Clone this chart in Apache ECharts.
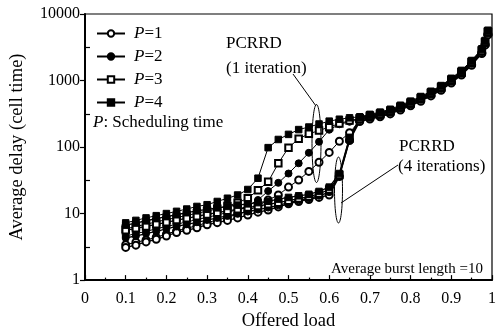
<!DOCTYPE html>
<html><head><meta charset="utf-8">
<script src="https://cdn.jsdelivr.net/npm/echarts@6/dist/echarts.min.js"></script>
<style>html,body{margin:0;padding:0;background:#fff}#c{width:500px;height:336px}</style>
</head><body><div id="c"></div>
<script>
// ---- data ----
const loads = [0.1,0.125,0.15,0.175,0.2,0.225,0.25,0.275,0.3,0.325,0.35,0.375,0.4,0.425,0.45,0.475,0.5,0.525,0.55,0.575,0.6,0.625,0.65,0.675,0.7,0.725,0.75,0.775,0.8,0.825,0.85,0.875,0.9,0.925,0.95,0.975,0.983,0.99];
const xTickLabels = ['0','0.1','0.2','0.3','0.4','0.5','0.6','0.7','0.8','0.9','1'];
const yTickLabels = ['1','10','100','1000','10000'];
const legendNames = ['P=1','P=2','P=3','P=4'];
// PCRRD, 1 iteration
const p1_1 = [3.4,3.7,4.0,4.4,4.9,5.5,6.0,6.6,7.3,8.0,8.8,9.8,11.0,13.0,16.0,19.0,25,32,43,59,83,122,164,248,270,291,322,370,426,500,600,731,940,1235,1740,2610,3480,4960];
const p2_1 = [4.6,5.0,5.4,5.9,6.4,6.9,7.5,8.1,8.8,9.5,10.4,11.5,13.0,16.0,21.8,29,40,57,82,120,182,220,240,259,282,305,337,387,446,523,628,764,983,1292,1820,2730,3640,5190];
const p3_1 = [5.9,6.4,6.9,7.5,8.1,8.7,9.4,10.1,10.9,11.8,13.0,14.5,17.0,22.5,30,57,98,133,158,177,200,225,250,271,295,318,352,404,466,546,656,798,1026,1349,1900,2850,3800,5415];
const p4_1 = [7.25,7.9,8.6,9.3,10.0,10.8,11.7,12.8,13.6,15.2,17.0,19.0,23.0,34,98,130,155,183,200,222,245,262,275,285,310,335,370,425,490,575,690,840,1080,1420,2000,3000,4000,5700];
// PCRRD, 4 iterations
const p1_4 = [3.1,3.35,3.75,4.1,4.6,5.2,5.6,6.1,6.8,7.3,7.9,8.6,9.5,10.5,11.3,12.6,14.0,15.2,16.3,17.5,19,36,125,242,264,285,315,361,417,489,587,714,918,1207,1700,2550,3400,4850];
const p2_4 = [4.3,4.6,5.0,5.4,5.9,6.4,6.9,7.4,8.0,8.6,9.2,9.9,10.7,11.5,12.3,13.3,14.6,15.8,17.0,18.5,21,37,130,254,276,298,329,378,436,512,614,748,961,1264,1780,2670,3560,5070];
const p3_4 = [5.6,6.0,6.4,6.9,7.4,8.0,8.5,9.1,9.7,10.3,11.0,11.6,12.3,13.0,13.8,14.6,15.6,16.8,18.0,19.8,23,38,135,265,288,312,344,395,456,535,642,781,1004,1321,1860,2790,3720,5300];
const p4_4 = [6.7,7.2,7.8,8.4,9.0,9.6,10.3,11.0,11.6,12.2,12.8,13.4,14.0,14.6,15.3,16.5,17.5,18.5,19.5,21.5,25,40,140,276,301,325,359,412,475,558,669,815,1048,1377,1940,2910,3880,5530];

const FONT = 'Liberation Serif';
const symbols = ['emptyCircle','circle','emptyRect','rect'];
const sizes = [7,7,6.5,6.5];
const iter1 = [p1_1,p2_1,p3_1,p4_1];
const iter4 = [p1_4,p2_4,p3_4,p4_4];

function mk(name, arr, k, w) {
  return {
    type: 'line', name: name,
    data: loads.map((x, i) => [x, arr[i]]),
    symbol: symbols[k], symbolSize: sizes[k],
    lineStyle: { color: '#000', width: w },
    itemStyle: { color: '#000', borderColor: '#000', borderWidth: 1 },
    emphasis: { disabled: true },
    animation: false, z: 3
  };
}
const series = [];
for (let k = 0; k < 4; k++) series.push(mk(legendNames[k], iter1[k], k, 1));
for (let k = 0; k < 4; k++) series.push(mk(legendNames[k], iter4[k], k, 1.3));

const chart = echarts.init(document.getElementById('c'), null, { renderer: 'canvas' });
chart.setOption({
  animation: false,
  backgroundColor: '#fff',
  textStyle: { fontFamily: FONT, color: '#000' },
  grid: { left: 84, right: 8, top: 14, bottom: 51, show: true, borderColor: '#000', borderWidth: 1.2, backgroundColor: 'transparent' },
  legend: {
    data: legendNames, orient: 'vertical', left: 91, top: 20,
    itemWidth: 28, itemHeight: 8, itemGap: 6,
    selectedMode: false,
    textStyle: { fontFamily: FONT, fontSize: 17, color: '#000', lineHeight: 17, padding: [0,0,0,4],
      rich: { i: { fontFamily: FONT, fontSize: 17, fontStyle: 'italic', color: '#000' },
              n: { fontFamily: FONT, fontSize: 17, color: '#000' } } },
    formatter: n => '{i|' + n.charAt(0) + '}{n|' + n.slice(1) + '}'
  },
  xAxis: {
    type: 'value', min: 0, max: 1, interval: 0.1,
    name: 'Offered load', nameLocation: 'middle', nameGap: 27,
    nameTextStyle: { fontFamily: FONT, fontSize: 18.5, color: '#000' },
    axisLine: { lineStyle: { color: '#000', width: 2 } },
    axisTick: { inside: true, length: 5, lineStyle: { color: '#000', width: 1.2 } },
    minorTick: { show: true, splitNumber: 2, length: 2.5, lineStyle: { color: '#000', width: 1.2 } },
    axisLabel: { fontFamily: FONT, fontSize: 16, color: '#000', margin: 11,
      formatter: v => xTickLabels[Math.round(v * 10)] },
    splitLine: { show: false }
  },
  yAxis: [{
    type: 'log', logBase: 10, min: 1, max: 10000,
    name: 'Average delay (cell time)', nameLocation: 'middle', nameGap: 58,
    nameTextStyle: { fontFamily: FONT, fontSize: 18.5, color: '#000' },
    axisLine: { lineStyle: { color: '#000', width: 2 } },
    axisTick: { inside: false, length: 5, lineStyle: { color: '#000', width: 1.2 } },
    axisLabel: { fontFamily: FONT, fontSize: 16, color: '#000', margin: 5,
      formatter: v => yTickLabels[Math.round(Math.log10(v))] },
    splitLine: { show: false }
  }, {
    type: 'value', min: 0, max: 4, interval: 1, position: 'left',
    axisLine: { show: false }, axisLabel: { show: false },
    axisTick: { show: false, inside: true },
    minorTick: { show: true, splitNumber: 2, length: 5, lineStyle: { color: '#000', width: 1.2 } },
    splitLine: { show: false }
  }],
  graphic: [
    { type: 'text', x: 93, y: 123, style: { text: '{i|P}: Scheduling time', verticalAlign: 'middle', align: 'left', fill: '#000',
        font: '17px "Liberation Serif"', rich: { i: { fontStyle: 'italic', fontSize: 17, fontFamily: FONT } } } },
    { type: 'text', x: 226, y: 44, style: { text: 'PCRRD', verticalAlign: 'middle', align: 'left', fill: '#000', font: '17px "Liberation Serif"' } },
    { type: 'text', x: 226, y: 69, style: { text: '(1 iteration)', verticalAlign: 'middle', align: 'left', fill: '#000', font: '17px "Liberation Serif"' } },
    { type: 'text', x: 399, y: 147, style: { text: 'PCRRD', verticalAlign: 'middle', align: 'left', fill: '#000', font: '17px "Liberation Serif"' } },
    { type: 'text', x: 398, y: 167, style: { text: '(4 iterations)', verticalAlign: 'middle', align: 'left', fill: '#000', font: '17px "Liberation Serif"' } },
    { type: 'text', x: 483, y: 269, style: { text: 'Average burst length =10', verticalAlign: 'middle', align: 'right', fill: '#000', font: '15px "Liberation Serif"' } },
    { type: 'ellipse', shape: { cx: 316.5, cy: 143.5, rx: 4.5, ry: 39 }, style: { fill: 'none', stroke: '#000', lineWidth: 1 }, z: 10 },
    { type: 'ellipse', shape: { cx: 338.5, cy: 190, rx: 4, ry: 33 }, style: { fill: 'none', stroke: '#000', lineWidth: 1 }, z: 10 },
    { type: 'line', shape: { x1: 293, y1: 74, x2: 316, y2: 106 }, style: { stroke: '#000', lineWidth: 1 }, z: 10 },
    { type: 'line', shape: { x1: 341, y1: 203, x2: 398, y2: 165 }, style: { stroke: '#000', lineWidth: 1 }, z: 10 }
  ],
  series: series
});
</script>
</body></html>
